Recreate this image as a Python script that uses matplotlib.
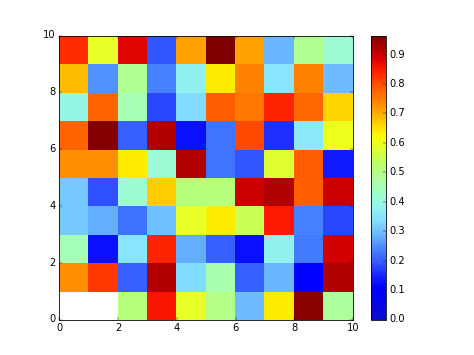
import numpy as np
import matplotlib
matplotlib.use('Agg')
import matplotlib.pyplot as plt
from matplotlib.colors import LinearSegmentedColormap

plt.style.use('classic')

# cell values, listed from the top row (y=9) down to the bottom row (y=0)
rows_top_down = [
    [0.83, 0.59, 0.88, 0.19, 0.71, 0.965, 0.71, 0.29, 0.49, 0.415],
    [0.685, 0.255, 0.49, 0.24, 0.375, 0.64, 0.745, 0.35, 0.745, 0.295],
    [0.395, 0.78, 0.455, 0.18, 0.335, 0.785, 0.755, 0.84, 0.77, 0.66],
    [0.78, 0.96, 0.20, 0.92, 0.125, 0.225, 0.805, 0.16, 0.355, 0.60],
    [0.73, 0.73, 0.64, 0.415, 0.92, 0.225, 0.19, 0.58, 0.785, 0.14],
    [0.31, 0.185, 0.415, 0.67, 0.51, 0.51, 0.90, 0.92, 0.785, 0.90],
    [0.31, 0.28, 0.22, 0.30, 0.59, 0.64, 0.55, 0.85, 0.24, 0.18],
    [0.45, 0.125, 0.35, 0.84, 0.28, 0.20, 0.125, 0.38, 0.23, 0.89],
    [0.73, 0.82, 0.20, 0.92, 0.335, 0.46, 0.20, 0.29, 0.106, 0.92],
    [np.nan, np.nan, 0.51, 0.855, 0.59, 0.50, 0.295, 0.64, 0.955, 0.48],
]
cbar_ticks = [0.0, 0.1, 0.2, 0.3, 0.4, 0.5, 0.6, 0.7, 0.8, 0.9]
axis_ticks = [0, 2, 4, 6, 8, 10]

# jet, but with the lighter blues/cyans seen in the picture
cmap = LinearSegmentedColormap.from_list('jet_light', [
    (0.00, (0.05, 0.05, 0.80)),
    (0.11, (0.00, 0.00, 1.00)),
    (0.15, (0.08, 0.12, 1.00)),
    (0.20, (0.20, 0.35, 1.00)),
    (0.25, (0.28, 0.52, 1.00)),
    (0.30, (0.42, 0.72, 1.00)),
    (0.35, (0.52, 0.88, 1.00)),
    (0.40, (0.58, 0.96, 0.92)),
    (0.45, (0.63, 1.00, 0.78)),
    (0.50, (0.68, 1.00, 0.60)),
    (0.55, (0.74, 1.00, 0.40)),
    (0.60, (0.88, 1.00, 0.20)),
    (0.64, (0.98, 1.00, 0.05)),
    (0.67, (1.00, 0.90, 0.00)),
    (0.75, (1.00, 0.58, 0.00)),
    (0.82, (1.00, 0.35, 0.00)),
    (0.88, (1.00, 0.10, 0.00)),
    (0.92, (0.85, 0.00, 0.00)),
    (0.96, (0.68, 0.00, 0.00)),
    (1.00, (0.50, 0.00, 0.00)),
])

data = np.ma.masked_invalid(np.array(rows_top_down)[::-1])

fig = plt.figure(figsize=(474 / 59.25, 355 / 59.25), dpi=59.25)
ax = fig.add_subplot(111)
mesh = ax.pcolor(data, cmap=cmap, vmin=0.0, vmax=0.965)
ax.set_xlim(0, 10)
ax.set_ylim(0, 10)
ax.set_xticks(axis_ticks)
ax.set_yticks(axis_ticks)
cb = fig.colorbar(mesh, ax=ax)
cb.set_ticks(cbar_ticks)

fig.savefig('out.png', dpi=59.25)
